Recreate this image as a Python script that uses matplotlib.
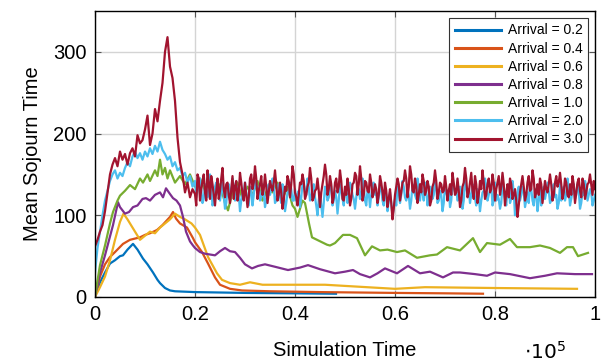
import numpy as np
import matplotlib
matplotlib.use("Agg")
import matplotlib.pyplot as plt

plt.rcParams['font.family'] = ['Liberation Sans', 'DejaVu Sans']

labels = ["Arrival = 0.2", "Arrival = 0.4", "Arrival = 0.6", "Arrival = 0.8",
          "Arrival = 1.0", "Arrival = 2.0", "Arrival = 3.0"]
colors = ["#0072BD", "#D95319", "#EDB120", "#7E2F8E", "#77AC30", "#4DBEEE", "#A2142F"]

xticks = [0, 0.2, 0.4, 0.6, 0.8, 1.0]
xticklabels = ["0", "0.2", "0.4", "0.6", "0.8", "1"]
yticks = [0, 100, 200, 300]

# Arrival = 0.2
x02 = [0, 0.005, 0.01, 0.02, 0.03, 0.04, 0.05, 0.056, 0.065, 0.076, 0.085, 0.096, 0.105,
       0.116, 0.125, 0.13, 0.14, 0.15, 0.16, 0.18, 0.2, 0.3, 0.4, 0.482]
y02 = [0, 10, 18, 30, 41, 45, 50, 51, 58, 65, 58, 47, 40,
       30, 21, 17, 11, 8, 7, 6.5, 6, 5, 4.5, 4]

# Arrival = 0.4
x04 = [0, 0.01, 0.02, 0.03, 0.04, 0.056, 0.07, 0.09, 0.1, 0.11, 0.124, 0.135, 0.15,
       0.156, 0.162, 0.17, 0.184, 0.196, 0.2, 0.214, 0.226, 0.24, 0.25, 0.27, 0.294,
       0.35, 0.45, 0.6, 0.7, 0.776]
y04 = [0, 25, 40, 49, 55, 65, 70, 73, 76, 78, 82, 88, 98,
       104, 96, 90, 85, 72, 67, 55, 41, 24, 15, 10, 8,
       7, 6, 5, 4.5, 4]

# Arrival = 0.6
x06 = [0, 0.01, 0.02, 0.03, 0.04, 0.05, 0.057, 0.065, 0.075, 0.09, 0.1, 0.11, 0.12,
       0.13, 0.14, 0.15, 0.16, 0.17, 0.18, 0.193, 0.2, 0.21, 0.226, 0.244, 0.254,
       0.27, 0.29, 0.31, 0.335, 0.41, 0.46, 0.6, 0.66, 0.8, 0.964]
y06 = [0, 12, 25, 45, 70, 92, 102, 95, 85, 70, 75, 80, 78,
       85, 90, 95, 102, 98, 95, 90, 85, 76, 49, 29, 21,
       17, 15, 18, 15, 15, 15, 10, 12, 11, 10]

# Arrival = 0.8
x08 = [0, 0.01, 0.02, 0.036, 0.046, 0.05, 0.06, 0.068, 0.076, 0.085, 0.095, 0.102, 0.11,
       0.12, 0.13, 0.136, 0.142, 0.15, 0.156, 0.163, 0.17, 0.176, 0.182, 0.19, 0.196,
       0.2, 0.21, 0.22, 0.24, 0.25, 0.26, 0.27, 0.28, 0.29, 0.3, 0.314, 0.326, 0.34,
       0.36, 0.386, 0.41, 0.426, 0.45, 0.48, 0.5, 0.516, 0.53, 0.55, 0.565, 0.58,
       0.604, 0.626, 0.65, 0.67, 0.696, 0.716, 0.73, 0.76, 0.784, 0.8, 0.83, 0.87,
       0.9, 0.924, 0.96, 0.994]
y08 = [0, 30, 51, 88, 116, 110, 102, 104, 110, 112, 120, 121, 118,
       125, 128, 122, 133, 126, 121, 118, 112, 98, 80, 68, 63,
       60, 55, 53, 51, 56, 60, 56, 55, 48, 40, 35, 38, 40,
       37, 33, 36, 39, 34, 29, 31, 33, 28, 24, 29, 35,
       29, 38, 29, 31, 24, 30, 30, 28, 26, 30, 28, 23,
       26, 29, 28, 28]

# Arrival = 1.0
x10 = [0, 0.005, 0.01, 0.02, 0.03, 0.036, 0.045, 0.05, 0.06, 0.07, 0.08, 0.09, 0.096,
       0.105, 0.11, 0.12, 0.125, 0.13, 0.135, 0.14, 0.145, 0.15, 0.16, 0.17, 0.18,
       0.19, 0.2, 0.21, 0.22, 0.23, 0.24, 0.25, 0.26, 0.266, 0.275, 0.285, 0.295,
       0.305, 0.315, 0.325, 0.335, 0.345, 0.355, 0.365, 0.375, 0.385, 0.395, 0.4,
       0.405, 0.415, 0.42, 0.428, 0.434, 0.444, 0.454, 0.464, 0.47, 0.48, 0.496,
       0.51, 0.524, 0.54, 0.554, 0.57, 0.585, 0.604, 0.62, 0.644, 0.67, 0.684,
       0.704, 0.73, 0.756, 0.77, 0.784, 0.81, 0.83, 0.844, 0.87, 0.89, 0.91, 0.93,
       0.944, 0.956, 0.966, 0.986]
y10 = [0, 20, 39, 63, 90, 104, 118, 124, 130, 137, 132, 145, 140,
       150, 142, 155, 148, 168, 150, 158, 145, 155, 140, 148, 138,
       150, 135, 145, 130, 142, 125, 138, 115, 106, 128, 140, 120,
       135, 125, 142, 118, 132, 128, 140, 120, 135, 112, 108,
       98, 118, 115, 90, 73, 70, 67, 64, 63, 66, 76,
       76, 72, 51, 62, 57, 58, 55, 57, 48, 51, 52,
       61, 57, 72, 55, 66, 64, 71, 61, 61, 63, 60, 54,
       61, 61, 50, 54]

# Arrival = 2.0: samples every 0.005 from 0 to 1.0 ...
y20 = [30, 60, 80, 100, 118, 130, 142, 150, 155, 145, 152, 148, 158, 165, 160, 172, 178,
       170, 176, 168, 178, 172, 182, 175, 185, 178, 190, 180, 175, 168, 172, 160, 165,
       155, 158, 148, 152, 140, 148, 135, 142,
       130, 145, 115, 138, 122, 150, 112, 135, 128, 118,
       140, 108, 132, 125, 145, 118, 135, 105, 128, 140,
       120, 135, 112, 142, 128, 118, 138, 110, 132, 125,
       145, 115, 130, 122, 138, 105, 128, 140, 118, 132,
       125, 110, 138, 128, 145, 118, 132, 122, 100, 128,
       98, 135, 118, 142, 112, 130, 102, 138, 120, 128,
       115, 140, 125, 108, 135, 120, 145, 118, 130, 110,
       138, 125, 112, 140, 118, 132, 105, 128, 100, 120,
       135, 115, 142, 122, 130, 108, 138, 125, 145, 118,
       128, 140, 112, 135, 120, 145, 115, 130, 105, 138,
       122, 110, 140, 128, 118, 135, 108, 142, 125, 115,
       138, 120, 132, 105, 128, 145, 118, 130, 112, 140,
       125, 108, 138, 120, 132, 115, 142, 100, 128, 118,
       135, 110, 128, 140, 118, 132, 105, 138, 125, 120,
       140, 115, 132, 122, 108, 138, 128, 118, 145, 112,
       130, 120, 138, 108, 128, 142, 118, 132, 112, 125]
# ... plus in-between samples from 0.2025 to 0.9975
y20_mid = [122, 138, 132, 120, 132, 128, 135, 118, 140, 125,
           128, 125, 115, 138, 130, 135, 122, 125, 118, 128,
           128, 112, 130, 125, 138, 135, 122, 128, 118, 138,
           132, 135, 118, 138, 115, 125, 115, 128, 132, 118,
           118, 130, 122, 138, 125, 135, 122, 138, 112, 118,
           112, 115, 130, 122, 135, 118, 122, 118, 130, 112,
           135, 125, 135, 120, 122, 132, 128, 135, 112, 128,
           125, 140, 128, 122, 132, 112, 125, 118, 115, 108,
           112, 128, 125, 135, 118, 125, 118, 132, 120, 135,
           135, 118, 130, 122, 132, 125, 132, 118, 125, 115,
           128, 132, 118, 135, 132, 120, 128, 118, 135, 132,
           125, 132, 112, 125, 118, 130, 135, 125, 138, 118,
           118, 120, 115, 132, 112, 138, 120, 128, 112, 135,
           125, 128, 118, 115, 132, 112, 125, 118, 112, 135,
           128, 130, 118, 138, 125, 115, 118, 135, 125, 132,
           120, 138, 125, 130, 115, 125, 135, 125, 128, 118]

# Arrival = 3.0: samples every 0.005 from 0 to 1.0 ...
y30 = [62, 70, 80, 88, 105, 128, 150, 162, 170, 160, 178, 168, 175, 162, 176, 182, 172,
       198, 188, 192, 205, 222, 186, 200, 230, 215, 240, 262, 300, 318, 282, 268, 240,
       195, 165, 150, 128, 140, 122, 132, 126,
       150, 118, 142, 128, 155, 120, 138, 112, 145, 130,
       158, 122, 140, 115, 148, 135, 118, 152, 126, 140,
       110, 145, 132, 160, 120, 138, 125, 150, 115, 142,
       130, 155, 118, 140, 108, 135, 148, 122, 160, 128,
       112, 140, 150, 120, 135, 158, 118, 130, 145, 110,
       138, 162, 125, 148, 115, 140, 128, 155, 120, 135,
       145, 112, 138, 152, 125, 160, 118, 142, 130, 150,
       122, 138, 115, 148, 128, 140, 110, 132, 95, 125,
       145, 118, 140, 155, 122, 160, 130, 145, 115, 138,
       150, 125, 142, 112, 135, 155, 120, 140, 128, 148,
       118, 138, 152, 125, 145, 110, 135, 158, 122, 140,
       130, 148, 115, 142, 155, 120, 138, 128, 150, 118,
       140, 125, 152, 112, 138, 145, 120, 132, 98, 128,
       148, 118, 140, 130, 155, 122, 138, 145, 115, 142,
       128, 150, 118, 140, 135, 152, 120, 145, 125, 138,
       148, 115, 140, 130, 145, 120, 138, 150, 125, 132]
# ... plus in-between samples from 0.2025 to 0.9975
y30_mid = [112, 145, 132, 150, 118, 140, 148, 125, 130, 120,
           145, 132, 138, 125, 132, 120, 142, 128, 140, 118,
           125, 122, 150, 140, 145, 130, 148, 132, 135, 128,
           135, 140, 138, 125, 128, 118, 130, 142, 138, 150,
           122, 125, 138, 142, 125, 140, 145, 122, 132, 130,
           128, 148, 150, 132, 138, 122, 145, 135, 142, 118,
           125, 132, 120, 140, 148, 138, 145, 125, 140, 128,
           140, 128, 132, 125, 140, 118, 130, 120, 115, 108,
           135, 138, 128, 142, 145, 135, 150, 128, 135, 125,
           128, 142, 130, 135, 118, 140, 142, 128, 138, 130,
           135, 130, 125, 140, 128, 130, 118, 140, 145, 128,
           152, 120, 138, 125, 132, 140, 125, 145, 132, 140,
           132, 148, 135, 138, 128, 122, 138, 125, 118, 112,
           138, 135, 125, 148, 132, 145, 128, 125, 138, 128,
           132, 138, 138, 125, 148, 140, 138, 128, 140, 122,
           125, 138, 128, 145, 122, 138, 128, 140, 138, 142]

t_grid = np.linspace(0, 1.0, len(y30))
t_mid = t_grid[40:-1] + 0.0025


def merge(t1, v1, t2, v2):
    t = np.concatenate([t1, t2])
    v = np.concatenate([np.asarray(v1, float), np.asarray(v2, float)])
    order = np.argsort(t, kind='stable')
    return t[order], v[order]


x20, y20_all = merge(t_grid, y20, t_mid, y20_mid)
x30, y30_all = merge(t_grid, y30, t_mid, y30_mid)

series = [(x02, y02), (x04, y04), (x06, y06), (x08, y08), (x10, y10),
          (x20, y20_all), (x30, y30_all)]

fig = plt.figure(figsize=(6.03, 3.64), dpi=100)
ax = fig.add_axes([95/603, 1-297/364, 500/603, 286/364])

for (xs, ys), c, lab in zip(series, colors, labels):
    ax.plot(xs, ys, color=c, lw=1.6, label=lab, solid_joinstyle='round')

ax.set_xlim(0, 1.0)
ax.set_ylim(0, 350)
ax.set_xticks(xticks)
ax.set_xticklabels(xticklabels)
ax.set_yticks(yticks)
ax.grid(True, color='#d4d4d4', lw=1.0)
ax.set_axisbelow(True)
ax.tick_params(direction='in', length=4, width=0.8, color='#555555', labelsize=14.5,
               top=True, right=True, pad=6)
for s in ax.spines.values():
    s.set_linewidth(1.0)
    s.set_color('black')

ax.set_ylabel("Mean Sojourn Time", fontsize=14.5, labelpad=8)
ax.set_xlabel("Simulation Time", fontsize=14.5, labelpad=12)
fig.text(545/603, 1-352/364, r"$\cdot10^5$", fontsize=14.5, ha='center', va='center')

leg = ax.legend(loc='upper right', fontsize=10, frameon=True, fancybox=False,
                edgecolor='#333333', framealpha=1, handlelength=3.3,
                borderaxespad=0.5, labelspacing=0.3, handletextpad=0.5)
leg.get_frame().set_linewidth(0.8)
for line in leg.get_lines():
    line.set_linewidth(2.2)

fig.savefig("out.png", dpi=100)
